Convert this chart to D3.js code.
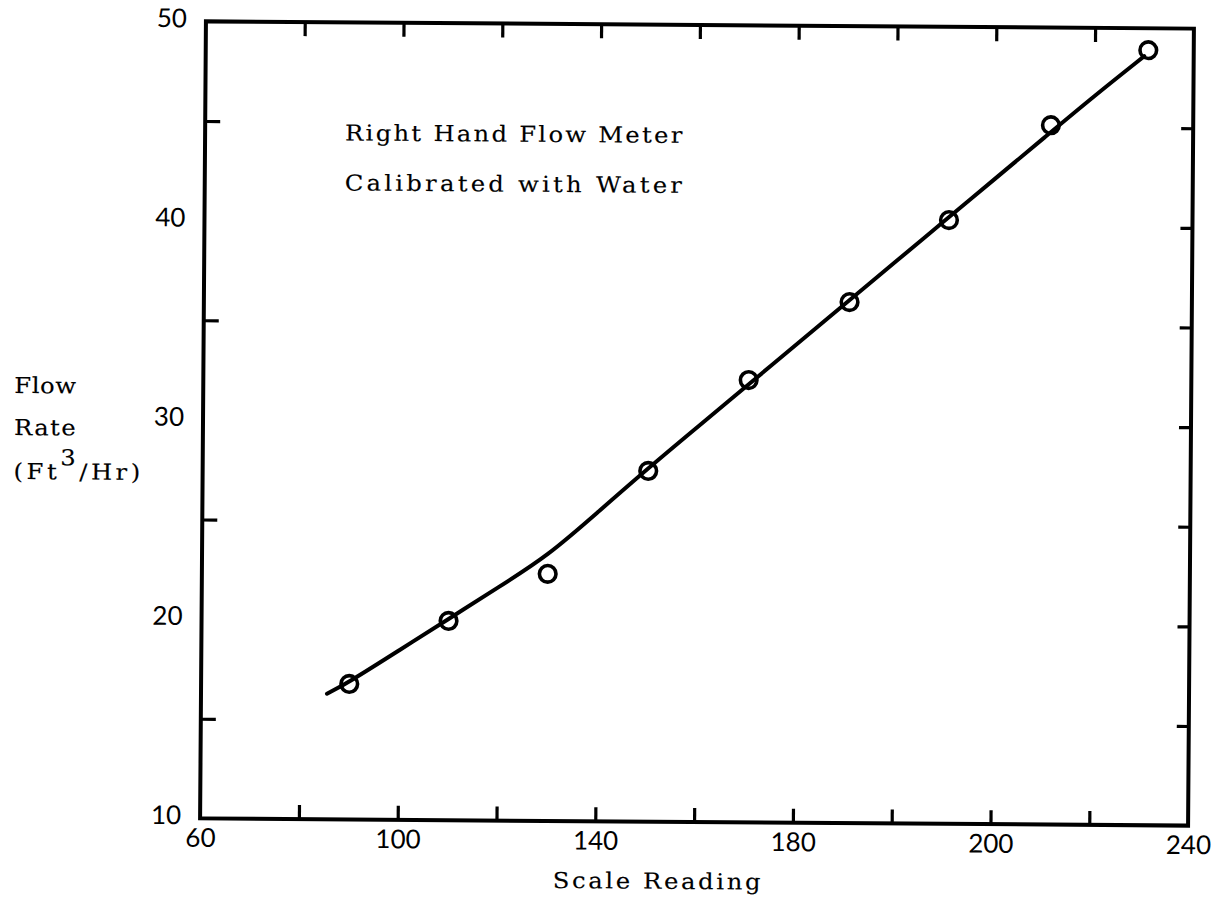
<!DOCTYPE html>
<html>
<head>
<meta charset="utf-8">
<script src="https://cdn.jsdelivr.net/npm/d3@7"></script>
<style>
  html, body { margin: 0; padding: 0; background: #fff; }
  svg { display: block; }
  .mono { font-family: "DejaVu Serif", "Liberation Serif", serif; font-size: 22px; fill: #000; stroke: #000; stroke-width: 0.15px; }
  .num { font-family: Lato, "DejaVu Sans", sans-serif; font-size: 26px; fill: #000; }
</style>
</head>
<body>
<svg id="chart" width="1218" height="911"></svg>
<script>
// Calibration readings: meter scale reading vs. measured flow rate
const scaleReading = [90, 110, 130, 150.2, 170.4, 190.7, 210.7, 231.2, 250.8];
const flowRate     = [16.8, 20.0, 22.4, 27.6, 32.2, 36.15, 40.3, 45.1, 48.9];

// Hand-faired calibration curve
const fitReading = [85.5, 90, 100, 110, 120, 130, 140, 150, 160, 170, 180, 190, 200, 210, 220, 230, 240, 250];
const fitFlow    = [16.3, 16.9, 18.5, 20.1, 21.7, 23.3, 25.5, 27.7, 29.8, 31.9, 34.0, 36.1, 38.2, 40.3, 42.4, 44.5, 46.6, 48.6];

// Axis ticks and their printed labels
const xTicks      = [60, 80, 100, 120, 140, 160, 180, 200, 220, 240, 260];
const xLabelAt    = [60, 100, 140, 180, 220, 260];
const xLabelText  = ["60", "100", "140", "180", "200", "240"];
const yLabelAt    = [50, 40, 30, 20, 10];
const yLabelText  = ["50", "40", "30", "20", "10"];
const yLeftTicks  = [45, 35, 25, 15];
const yRightTicks = [45, 40, 35, 30, 25, 20, 15];

const noteLines = ["Right Hand Flow Meter", "Calibrated with Water"];
const yTitle    = ["Flow", "Rate"];

// typewriter pitch: every character takes the same advance
const PITCH = 16.2;
const WIDEN = 1.1;   // typewriter faces are a little wider than the serif face used

const L = 203, R = 1191, T = 25, B = 822;
const x = d3.scaleLinear().domain([60, 260]).range([L, R]);
const y = d3.scaleLinear().domain([10, 50]).range([B, T]);

const svg = d3.select("#chart");
const g = svg.append("g")
  .attr("transform", `rotate(0.42, ${(L + R) / 2}, ${(T + B) / 2})`);

// Set a string at a fixed character pitch, glyphs widened horizontally
function typeText(parent, str, x0, y0, anchor) {
  const width = str.length * PITCH - 3;
  const start = anchor === "middle" ? x0 - width / 2 : x0;
  return parent.append("g")
    .attr("transform", `translate(${start},${y0}) scale(${WIDEN},1)`)
    .append("text").attr("class", "mono")
    .attr("x", 0).attr("y", 0)
    .attr("textLength", width / WIDEN).attr("lengthAdjust", "spacing");
}

// Frame
g.append("rect")
  .attr("x", L).attr("y", T)
  .attr("width", R - L).attr("height", B - T)
  .attr("fill", "none").attr("stroke", "#000").attr("stroke-width", 4);

const tickStyle = sel => {
  sel.select(".domain").remove();
  sel.selectAll(".tick line").attr("stroke", "#000").attr("stroke-width", 3.2);
};

// Bottom ticks (inward) with labels
const xLabel = v => { const i = xLabelAt.indexOf(v); return i >= 0 ? xLabelText[i] : ""; };
const xb = g.append("g").attr("transform", `translate(0,${B})`)
  .call(d3.axisBottom(x).tickValues(xTicks).tickSizeInner(-14).tickSizeOuter(0).tickPadding(10).tickFormat(xLabel))
  .call(tickStyle)
  .call(s => s.selectAll(".tick text").attr("class", "num").attr("fill", "#000"));
xb.selectAll(".tick").filter(d => d === 60 || d === 260).select("line").remove();

// Top ticks (inward)
g.append("g").attr("transform", `translate(0,${T})`)
  .call(d3.axisTop(x).tickValues(xTicks.slice(1, -1)).tickSizeInner(-14).tickSizeOuter(0).tickFormat(""))
  .call(tickStyle);

// Left ticks (inward) and labels
g.append("g").attr("transform", `translate(${L},0)`)
  .call(d3.axisLeft(y).tickValues(yLeftTicks).tickSizeInner(-15).tickSizeOuter(0).tickFormat(""))
  .call(tickStyle);
g.append("g").selectAll("text").data(yLabelAt).join("text")
  .attr("class", "num")
  .attr("x", L - 19)
  .attr("y", d => y(d) - 4)
  .attr("text-anchor", "end")
  .attr("dominant-baseline", "central")
  .text((d, i) => yLabelText[i]);

// Right ticks (inward)
g.append("g").attr("transform", `translate(${R},0)`)
  .call(d3.axisRight(y).tickValues(yRightTicks).tickSizeInner(-12).tickSizeOuter(0).tickFormat(""))
  .call(tickStyle);

// Calibration curve
const fit = fitReading.map((v, i) => [v, fitFlow[i]]);
g.append("path")
  .datum(fit)
  .attr("fill", "none").attr("stroke", "#000").attr("stroke-width", 4)
  .attr("stroke-linecap", "round").attr("stroke-linejoin", "round")
  .attr("d", d3.line().x(d => x(d[0])).y(d => y(d[1])).curve(d3.curveBasis));

// Measured points
const pts = scaleReading.map((v, i) => [v, flowRate[i]]);
g.append("g").selectAll("circle").data(pts).join("circle")
  .attr("cx", d => x(d[0])).attr("cy", d => y(d[1]))
  .attr("r", 8.3)
  .attr("fill", "none").attr("stroke", "#000").attr("stroke-width", 3.6);

// Note inside the plot
noteLines.forEach((line, i) => typeText(g, line, 343, 143 + i * 50, "start").text(line));

// Axis titles
typeText(g, "Scale Reading", 660, 889, "middle").text("Scale Reading");

yTitle.forEach((line, i) => typeText(g, line, 14, 398 + i * 42, "start").text(line));
const unit = typeText(g, "(Ft3/Hr)", 14, 484, "start");
unit.append("tspan").text("(Ft");
unit.append("tspan").attr("dy", -14).text("3");
unit.append("tspan").attr("dy", 14).text("/Hr)");
</script>
</body>
</html>
